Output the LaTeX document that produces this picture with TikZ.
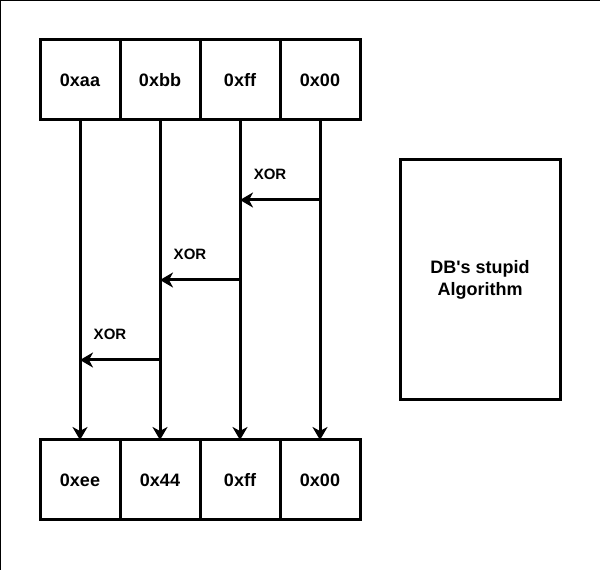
\documentclass[tikz,border=0pt]{standalone}
\usepackage{fontspec}
\setmainfont{Liberation Sans}
\usetikzlibrary{arrows.meta,positioning,calc}

\begin{document}
\begin{tikzpicture}[x = 1pt, y = 1pt, >={Stealth[length=13pt, width=15pt, inset=4pt]}]

\tikzstyle{cell} = [rectangle, draw, line width = 3pt, minimum width = 80pt, minimum height = 80pt, inner sep = 0pt, outer sep = 0pt, text height = 13pt, text depth = 0pt, font = \fontsize{18pt}{18pt}\selectfont\bfseries]

\tikzstyle{algbox} = [rectangle, draw, line width = 3pt, minimum width = 160pt, minimum height = 240pt, inner sep = 0pt, outer sep = 0pt, align = center, font = \fontsize{18pt}{22pt}\selectfont\bfseries]

\tikzstyle{wire} = [line width = 3pt]

\tikzstyle{xorlbl} = [midway, above = 19pt, xshift = -10pt, inner sep = 0pt, font = \fontsize{15pt}{15pt}\selectfont\bfseries]

\useasboundingbox (0,0) rectangle (600,570);
\draw[line width = 1pt] (0.5,0) -- (0.5,569.5) -- (600,569.5);

% input bytes
\node [cell] at (80,490) (t1) {0xaa};
\node [cell, right = 0pt of t1] (t2) {0xbb};
\node [cell, right = 0pt of t2] (t3) {0xff};
\node [cell, right = 0pt of t3] (t4) {0x00};

% output bytes
\node [cell, below = 320pt of t1] (b1) {0xee};
\node [cell, right = 0pt of b1] (b2) {0x44};
\node [cell, right = 0pt of b2] (b3) {0xff};
\node [cell, right = 0pt of b3] (b4) {0x00};

\coordinate (mid) at ($(t4.east)!0.5!(b4.east)$);
\node [algbox, right = 40pt of mid] (alg) {DB\textquotesingle s stupid\\Algorithm};

\path[->, wire] (t1.south) edge (b1.north);
\path[->, wire] (t2.south) edge (b2.north);
\path[->, wire] (t3.south) edge (b3.north);
\path[->, wire] (t4.south) edge (b4.north);

% xor chain
\coordinate (x4) at ($(t4.south)!0.25!(b4.north)$);
\coordinate (x3) at ($(t3.south)!0.25!(b3.north)$);
\coordinate (y3) at ($(t3.south)!0.5!(b3.north)$);
\coordinate (y2) at ($(t2.south)!0.5!(b2.north)$);
\coordinate (z2) at ($(t2.south)!0.75!(b2.north)$);
\coordinate (z1) at ($(t1.south)!0.75!(b1.north)$);

\path[->, wire] (x4) edge node [xorlbl] {XOR} (x3);
\path[->, wire] (y3) edge node [xorlbl] {XOR} (y2);
\path[->, wire] (z2) edge node [xorlbl] {XOR} (z1);

\end{tikzpicture}
\end{document}
